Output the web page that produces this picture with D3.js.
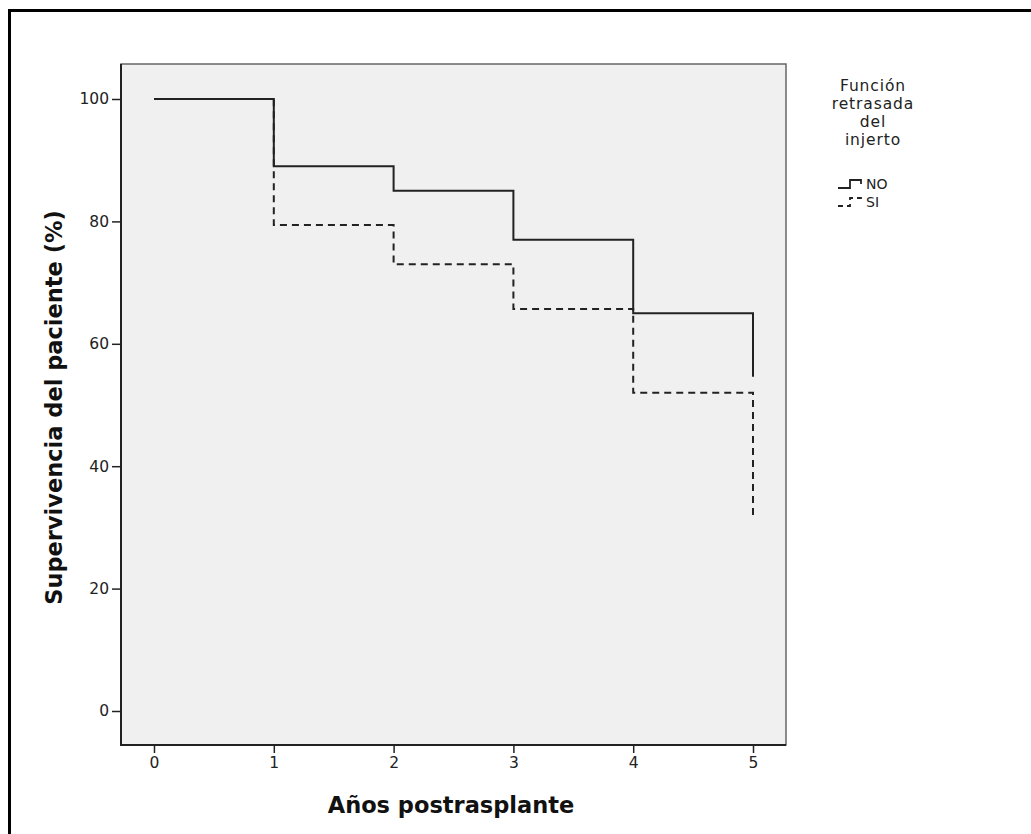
<!DOCTYPE html>
<html><head><meta charset="utf-8">
<script src="https://cdn.jsdelivr.net/npm/d3@7"></script>
<style>body{margin:0;background:#fff}svg{display:block}</style>
</head><body>
<script>
const years = [0, 1, 2, 3, 4, 5];
const survivalNO = [100, 89, 85, 77, 65, 54.6];
const survivalSI = [100, 79.4, 73, 65.7, 52, 31.9];
const xTicks = [0, 1, 2, 3, 4, 5];
const yTicks = [0, 20, 40, 60, 80, 100];
const legendTitle = ["Función", "retrasada", "del", "injerto"];
const seriesNames = ["NO", "SI"];

const W = 1031, H = 834;
const svg = d3.select("body").append("svg").attr("width", W).attr("height", H);
svg.append("rect").attr("x", 9.5).attr("y", 10.5).attr("width", W + 20).attr("height", H + 20)
  .attr("fill", "#fff").attr("stroke", "#000").attr("stroke-width", 3);

const L = 121, T = 64, R = 786, B = 745;
const x = d3.scaleLinear().domain([0, 5]).range([154, 753]);
const y = d3.scaleLinear().domain([0, 100]).range([711, 99]);

svg.append("rect").attr("x", L).attr("y", T).attr("width", R - L).attr("height", B - T)
  .attr("fill", "#f0f0f0").attr("stroke", "#666").attr("stroke-width", 1.5);

const font = "'DejaVu Sans', sans-serif";
const gx = svg.append("g").attr("transform", `translate(0,${B})`)
  .call(d3.axisBottom(x).tickValues(xTicks).tickSize(8).tickPadding(4).tickFormat(d3.format("d")));
const gy = svg.append("g").attr("transform", `translate(${L},0)`)
  .call(d3.axisLeft(y).tickValues(yTicks).tickSize(9).tickPadding(3).tickFormat(d3.format("d")));
[gx, gy].forEach(g => {
  g.select(".domain").remove();
  g.selectAll("line").attr("stroke", "#222").attr("stroke-width", 1.5);
  g.selectAll("text").attr("font-family", font).attr("font-size", 15.5).attr("fill", "#222");
});
svg.append("line").attr("x1", L).attr("x2", L).attr("y1", T).attr("y2", B + 1).attr("stroke", "#222").attr("stroke-width", 2);
svg.append("line").attr("x1", L).attr("x2", R).attr("y1", B).attr("y2", B).attr("stroke", "#222").attr("stroke-width", 2);

function stepPts(vals) {
  const pts = [[years[0], vals[0]]];
  for (let i = 1; i < years.length; i++) {
    pts.push([years[i], vals[i - 1]]);
    pts.push([years[i], vals[i]]);
  }
  return pts;
}
const line = d3.line().x(d => x(d[0])).y(d => y(d[1]));
svg.append("path").attr("d", line(stepPts(survivalSI))).attr("fill", "none")
  .attr("stroke", "#222").attr("stroke-width", 2).attr("stroke-dasharray", "7,5");
svg.append("path").attr("d", line(stepPts(survivalNO))).attr("fill", "none")
  .attr("stroke", "#222").attr("stroke-width", 2);

svg.append("text").attr("x", 451).attr("y", 813).attr("text-anchor", "middle")
  .attr("font-family", font).attr("font-weight", "bold").attr("font-size", 22.5).attr("fill", "#111")
  .text("Años postrasplante");
svg.append("text").attr("transform", `translate(62,${(T + B) / 2 + 3}) rotate(-90)`).attr("text-anchor", "middle")
  .attr("font-family", font).attr("font-weight", "bold").attr("font-size", 22.5).attr("fill", "#111")
  .text("Supervivencia del paciente (%)");

const lg = svg.append("g");
legendTitle.forEach((t, i) => {
  lg.append("text").attr("x", 873).attr("y", 91 + i * 18).attr("text-anchor", "middle")
    .attr("font-family", font).attr("font-size", 15.5).attr("letter-spacing", 0.9)
    .attr("fill", "#222").text(t);
});
seriesNames.forEach((n, i) => {
  const yy = 187 + i * 18;
  lg.append("path").attr("d", `M838,${yy + 1}H850V${yy - 7}H861V${yy - 3}`)
    .attr("fill", "none").attr("stroke", "#222").attr("stroke-width", 1.8)
    .attr("stroke-dasharray", i === 1 ? "5,4" : null);
  lg.append("text").attr("x", 866).attr("y", yy + 2).attr("font-family", font).attr("font-size", 14)
    .attr("fill", "#222").text(n);
});
</script>
</body></html>
